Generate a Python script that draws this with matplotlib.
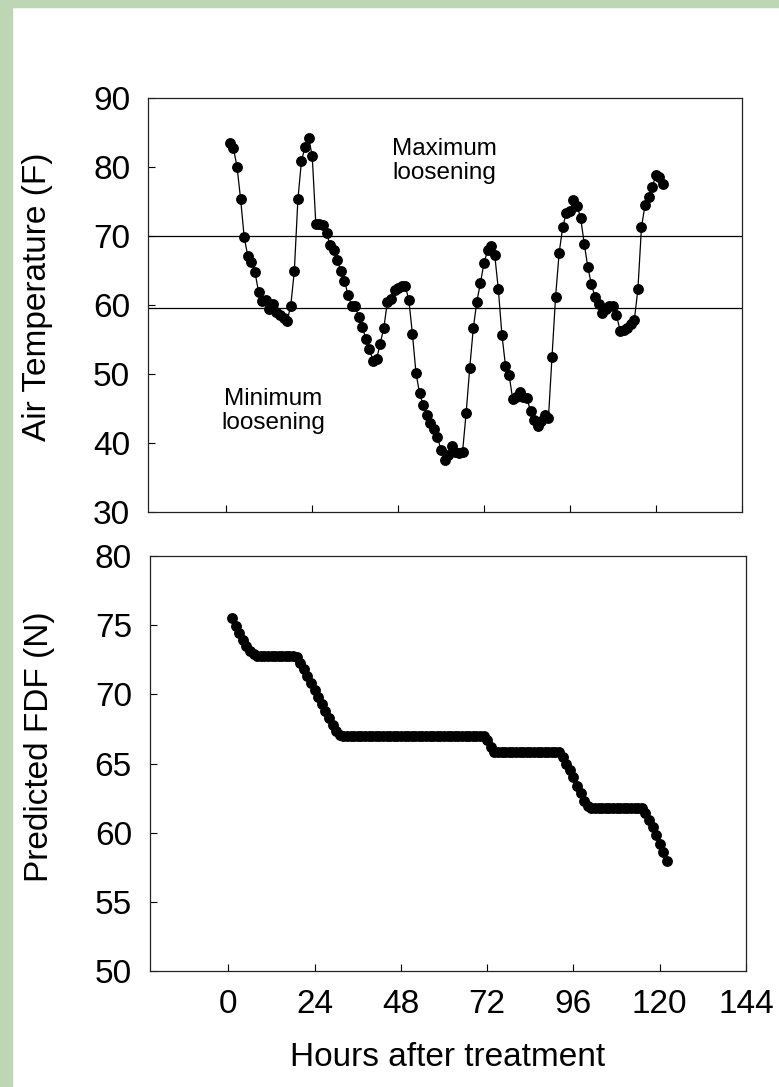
import matplotlib
matplotlib.use("Agg")
import matplotlib.pyplot as plt
from matplotlib.patches import Rectangle

plt.rcParams['font.family'] = ['Liberation Sans', 'DejaVu Sans']

# hourly readings, 1..122 h after treatment
hours = list(range(1, 123))

air_temp = [
    83.5, 82.7, 80.0, 75.3, 69.8, 67.1, 66.3, 64.8, 61.9, 60.6,
    60.7, 59.4, 60.1, 59.0, 58.5, 58.1, 57.7, 59.9, 64.9, 75.3,
    80.9, 82.9, 84.2, 81.6, 71.8, 71.7, 71.6, 70.4, 68.7, 67.9,
    66.5, 64.9, 63.5, 61.5, 59.9, 59.9, 58.2, 56.8, 55.1, 53.6,
    51.9, 52.2, 54.4, 56.7, 60.4, 60.8, 62.2, 62.4, 62.7, 62.8,
    60.7, 55.8, 50.1, 47.2, 45.5, 44.1, 42.9, 42.0, 40.8, 39.0,
    37.5, 38.3, 39.5, 38.7, 38.5, 38.7, 44.3, 50.8, 56.6, 60.5,
    63.2, 66.1, 67.9, 68.6, 67.2, 62.3, 55.7, 51.2, 49.9, 46.4,
    46.6, 47.4, 46.6, 46.5, 44.6, 43.3, 42.5, 43.2, 44.0, 43.6,
    52.5, 61.2, 67.6, 71.3, 73.4, 73.6, 75.2, 74.4, 72.6, 68.9,
    65.5, 63.0, 61.2, 60.1, 58.8, 59.4, 59.8, 59.8, 58.6, 56.3,
    56.4, 56.7, 57.2, 57.8, 62.3, 71.3, 74.5, 75.7, 77.1, 78.8,
    78.6, 77.6,
]

fdf = [
    75.5, 74.95, 74.45, 73.95, 73.5, 73.1, 72.9, 72.8, 72.8, 72.8,
    72.8, 72.8, 72.8, 72.8, 72.8, 72.8, 72.8, 72.8, 72.7, 72.3,
    71.8, 71.3, 70.8, 70.3, 69.8, 69.3, 68.8, 68.3, 67.8, 67.35,
    67.05, 67.0, 67.0, 67.0, 67.0, 67.0, 67.0, 67.0, 67.0, 67.0,
    67.0, 67.0, 67.0, 67.0, 67.0, 67.0, 67.0, 67.0, 67.0, 67.0,
    67.0, 67.0, 67.0, 67.0, 67.0, 67.0, 67.0, 67.0, 67.0, 67.0,
    67.0, 67.0, 67.0, 67.0, 67.0, 67.0, 67.0, 67.0, 67.0, 67.0,
    67.0, 66.7, 66.2, 65.85, 65.8, 65.8, 65.8, 65.8, 65.8, 65.8,
    65.8, 65.8, 65.8, 65.8, 65.8, 65.8, 65.8, 65.8, 65.8, 65.8,
    65.8, 65.8, 65.5, 65.0, 64.5, 64.0, 63.4, 62.9, 62.3, 61.9,
    61.8, 61.8, 61.8, 61.8, 61.8, 61.8, 61.8, 61.8, 61.8, 61.8,
    61.8, 61.8, 61.8, 61.8, 61.8, 61.4, 60.9, 60.4, 59.8, 59.2,
    58.6, 57.95,
]

# loosening thresholds (F)
upper_line = 70.0
lower_line = 59.6

x_ticks = [0, 24, 48, 72, 96, 120, 144]

fig = plt.figure(figsize=(7.79, 10.87), dpi=100)
fig.patch.set_facecolor("white")
# green slide background showing at the left and top edges
fig.patches.append(Rectangle((0, 0), 12 / 779, 1, transform=fig.transFigure,
                             color="#bdd6b3", zorder=-10))
fig.patches.append(Rectangle((0, 1 - 7 / 1087), 1, 7 / 1087, transform=fig.transFigure,
                             color="#bdd6b3", zorder=-10))

ax1 = fig.add_axes([148.3 / 779, 1 - 512 / 1087, 593.4 / 779, 414 / 1087])
ax2 = fig.add_axes([150 / 779, 1 - 971 / 1087, 596 / 779, 415 / 1087])

ax1.axhline(upper_line, color="black", lw=0.9, zorder=1)
ax1.axhline(lower_line, color="black", lw=0.9, zorder=1)
ax1.plot(hours, air_temp, color="black", lw=0.9, marker="o", markersize=6.8, zorder=3)
ax1.set_ylim(30, 90)
ax1.set_yticks([30, 40, 50, 60, 70, 80, 90])
ax1.set_xlim(-21.8, 144)
ax1.set_xticks(x_ticks)
ax1.set_xticklabels([])
ax1.set_ylabel("Air Temperature (F)", fontsize=24, va="center")
ax1.yaxis.set_label_coords(-0.1875, 0.52)

ax1.text((444 - 148.3) / 593.4, (512 - 161) / 414, "Maximum\nloosening", fontsize=17.5,
         ha="center", va="center", linespacing=1.15, transform=ax1.transAxes)
ax1.text((273 - 148.3) / 593.4, (512 - 411) / 414, "Minimum\nloosening", fontsize=17.5,
         ha="center", va="center", linespacing=1.15, transform=ax1.transAxes)

ax2.plot(hours, fdf, color="black", lw=0.9, marker="o", markersize=6.8, zorder=3)
ax2.set_ylim(50, 80)
ax2.set_yticks([50, 55, 60, 65, 70, 75, 80])
ax2.set_xlim(-21.8, 144)
ax2.set_xticks(x_ticks)
ax2.set_xlabel("Hours after treatment", fontsize=24, labelpad=16)
ax2.set_ylabel("Predicted FDF (N)", fontsize=24, va="center")
ax2.yaxis.set_label_coords(-0.1846, 0.54)

for ax in (ax1, ax2):
    ax.tick_params(direction="in", length=5, width=0.8, labelsize=24, pad=13, colors="black")
    for s in ax.spines.values():
        s.set_linewidth(0.9)
        s.set_color("#222222")

fig.savefig("out.png", dpi=100, facecolor=fig.get_facecolor())
